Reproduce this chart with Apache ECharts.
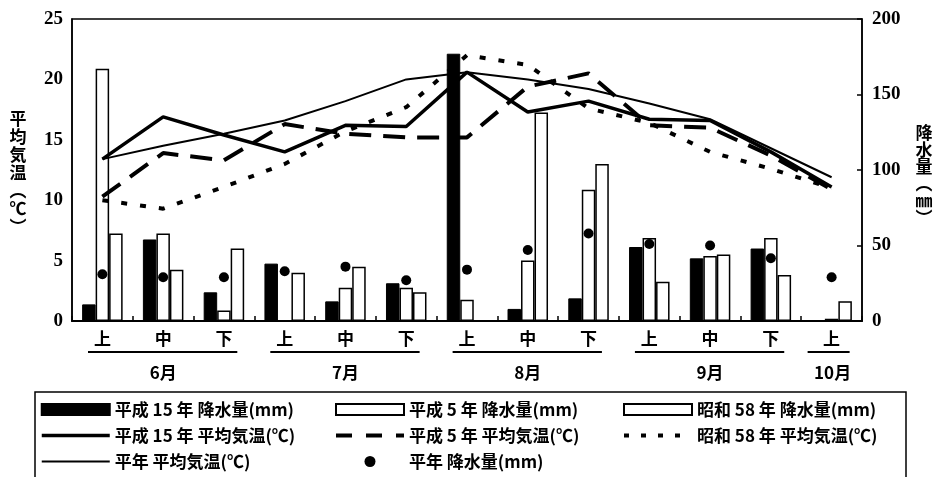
<!DOCTYPE html>
<html><head><meta charset="utf-8">
<script src="https://cdn.jsdelivr.net/npm/echarts@6/dist/echarts.min.js"></script>
<style>html,body{margin:0;padding:0;background:#fff}#c{width:936px;height:477px}</style>
</head><body><div id="c"></div>
<script>
// ---- data ----
const categories = ['上','中','下','上','中','下','上','中','下','上','中','下','上'];
const months = ['6月','7月','8月','9月','10月'];
const monthFirst = [0, 3, 6, 9, 12];
const monthLast  = [2, 5, 8, 11, 12];
const tempTicks = [0, 5, 10, 15, 20, 25];
const rainTicks = [0, 50, 100, 150, 200];

const rainH15 = [11, 54, 19, 38, 13, 25, 177, 8, 15, 49, 41.5, 48, null];
const rainH5  = [167, 58, 7, null, 22, 22, 14, 40, 87, 55, 43, 55, 1.5];
const rainS58 = [58, 34, 48, 32, 36, 19, null, 138, 104, 26, 44, 30.5, 13];
const rainNormal = [31, 29, 29, 33, 36, 27, 34, 47, 58, 51, 50, 41.5, 29];

const tempH15 = [13.4, 16.9, 15.4, 14.0, 16.2, 16.1, 20.6, 17.3, 18.2, 16.7, 16.6, 14.0, 11.1];
const tempH5  = [10.3, 13.9, 13.3, 16.3, 15.5, 15.2, 15.2, 19.4, 20.5, 16.2, 16.0, 13.7, 10.9];
const tempS58 = [10.0, 9.3, 11.1, 13.0, 15.7, 17.7, 22.0, 21.2, 17.6, 16.4, 14.0, 12.6, 11.0];
const tempNormal = [13.4, 14.5, 15.5, 16.6, 18.2, 20.0, 20.6, 20.0, 19.2, 18.0, 16.7, 14.3, 11.9];

const names = {
  rH15: '平成 15 年 降水量(mm)', rH5: '平成 5 年 降水量(mm)', rS58: '昭和 58 年 降水量(mm)',
  tH15: '平成 15 年 平均気温(℃)', tH5: '平成 5 年 平均気温(℃)', tS58: '昭和 58 年 平均気温(℃)',
  tN: '平年 平均気温(℃)', rN: '平年 降水量(mm)'
};

const CJK = '"Noto Sans CJK JP", sans-serif';
const SERIF = '"Liberation Serif", "DejaVu Serif", serif';

const chart = echarts.init(document.getElementById('c'), null, {renderer: 'canvas'});

const legendText = {fontSize: 17, fontWeight: 'bold', fontFamily: CJK, color: '#000'};
const legendBase = {orient: 'vertical', top: 401, itemWidth: 68, itemHeight: 11, itemGap: 9,
  textStyle: legendText, selectedMode: false, padding: 0};
const lineItem = (n, w, dash) => ({name: n, itemStyle: {opacity: 0},
  lineStyle: {width: w, type: dash || 'solid', color: '#000', cap: 'butt'}});

const option = {
  animation: false,
  backgroundColor: '#fff',
  grid: {left: 72, right: 74, top: 19, bottom: 156, containLabel: false,
    show: true, borderColor: '#000', borderWidth: 1.5, backgroundColor: 'transparent'},
  xAxis: {
    type: 'category', data: categories, boundaryGap: true,
    axisLine: {lineStyle: {color: '#000', width: 2}},
    axisTick: {show: true, inside: true, length: 5, interval: 0, lineStyle: {color: '#000', width: 1.5}},
    axisLabel: {interval: 0, margin: 9, fontSize: 17, fontWeight: 'bold', fontFamily: CJK, color: '#000'},
    splitLine: {show: false}
  },
  yAxis: [
    {type: 'value', min: tempTicks[0], max: tempTicks[tempTicks.length-1], interval: 5, position: 'left',
     axisLine: {show: true, lineStyle: {color: '#000', width: 1.5}},
     axisTick: {show: false}, splitLine: {show: false},
     axisLabel: {margin: 9, fontSize: 19, fontWeight: 'bold', fontFamily: SERIF, color: '#000'}},
    {type: 'value', min: rainTicks[0], max: rainTicks[rainTicks.length-1], interval: 50, position: 'right',
     axisLine: {show: true, lineStyle: {color: '#000', width: 1.5}},
     axisTick: {show: true, inside: true, length: 5, lineStyle: {color: '#000', width: 1.5}}, splitLine: {show: false},
     axisLabel: {margin: 10, fontSize: 19, fontWeight: 'bold', fontFamily: SERIF, color: '#000'}}
  ],
  legend: [
    Object.assign({}, legendBase, {left: 40, data: [
      {name: names.rH15, icon: 'rect'}, lineItem(names.tH15, 3.5), lineItem(names.tN, 2)]}),
    Object.assign({}, legendBase, {left: 334, data: [
      {name: names.rH5, icon: 'rect'}, lineItem(names.tH5, 4, [16, 14]), {name: names.rN, icon: 'circle'}]}),
    Object.assign({}, legendBase, {left: 622, data: [
      {name: names.rS58, icon: 'rect'}, lineItem(names.tS58, 4, [5, 12])]})
  ],
  series: [
    {name: names.rH15, type: 'bar', yAxisIndex: 1, data: rainH15, barWidth: 13.5, barGap: '0%',
     itemStyle: {color: '#000', borderColor: '#000', borderWidth: 1}},
    {name: names.rH5, type: 'bar', yAxisIndex: 1, data: rainH5, barWidth: 13.5, barGap: '0%',
     itemStyle: {color: '#fff', borderColor: '#000', borderWidth: 1.5}},
    {name: names.rS58, type: 'bar', yAxisIndex: 1, data: rainS58, barWidth: 13.5, barGap: '0%',
     itemStyle: {color: '#fff', borderColor: '#000', borderWidth: 1.5}},
    {name: names.tH15, type: 'line', yAxisIndex: 0, data: tempH15, symbol: 'none', z: 5,
     lineStyle: {color: '#000', width: 3.5}, itemStyle: {color: '#000'}},
    {name: names.tH5, type: 'line', yAxisIndex: 0, data: tempH5, symbol: 'none', z: 5,
     lineStyle: {color: '#000', width: 4, type: [22, 12], cap: 'butt'}, itemStyle: {color: '#000'}},
    {name: names.tS58, type: 'line', yAxisIndex: 0, data: tempS58, symbol: 'none', z: 5,
     lineStyle: {color: '#000', width: 4, type: [6, 13], cap: 'butt'}, itemStyle: {color: '#000'}},
    {name: names.tN, type: 'line', yAxisIndex: 0, data: tempNormal, symbol: 'none', z: 5,
     lineStyle: {color: '#000', width: 2}, itemStyle: {color: '#000'}},
    {name: names.rN, type: 'scatter', yAxisIndex: 1, data: rainNormal, symbol: 'circle', symbolSize: 10, z: 6,
     itemStyle: {color: '#000', opacity: 1}}
  ]
};
chart.setOption(option);

// month underlines and labels, positioned from the category axis
const graphics = [];
const cx = i => chart.convertToPixel({xAxisIndex: 0}, i);
const band = cx(1) - cx(0);
months.forEach((m, k) => {
  const a = monthFirst[k], b = monthLast[k];
  const single = a === b;
  const x1 = single ? cx(a) - 24 : cx(a) - band / 2 + 16;
  const x2 = single ? cx(b) + 18 : cx(b) + band / 2 - 17;
  graphics.push({type: 'line', shape: {x1: x1, y1: 352, x2: x2, y2: 352}, style: {stroke: '#000', lineWidth: 2}});
  graphics.push({type: 'text', x: (cx(a) + cx(b)) / 2 + (single ? 1 : 0), y: 373,
    style: {text: m, fontSize: 17, fontWeight: 'bold', fontFamily: CJK, fill: '#000', align: 'center', verticalAlign: 'middle'}});
});
// legend frame
graphics.push({type: 'rect', shape: {x: 35, y: 392, width: 871, height: 110}, style: {fill: 'none', stroke: '#000', lineWidth: 1.5}, z: -1});
// axis titles (vertical)
graphics.push({type: 'text', x: 18, y: 173,
  style: {text: '平\n均\n気\n温\n︵\n℃\n︶', fontSize: 17, lineHeight: 18, fontWeight: 'bold', fontFamily: CJK, fill: '#000', align: 'center', verticalAlign: 'middle'}});
graphics.push({type: 'text', x: 924, y: 175,
  style: {text: '降\n水\n量\n︵\n㎜\n︶', fontSize: 17, lineHeight: 17, fontWeight: 'bold', fontFamily: CJK, fill: '#000', align: 'center', verticalAlign: 'middle'}});
chart.setOption({graphic: graphics});
</script>
</body></html>
